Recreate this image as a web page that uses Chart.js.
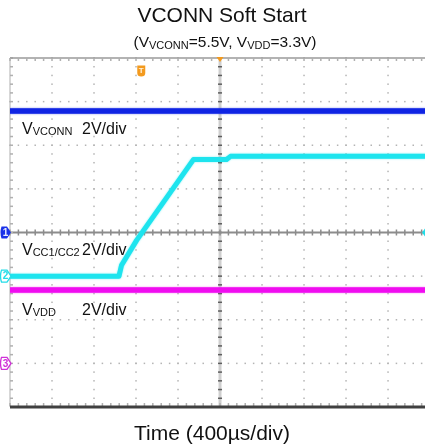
<!DOCTYPE html>
<html>
<head>
<meta charset="utf-8">
<script src="https://cdn.jsdelivr.net/npm/chart.js@4/dist/chart.umd.min.js"></script>
<style>
  html, body { margin: 0; padding: 0; background: #ffffff; }
  #wrap { width: 425px; height: 448px; position: relative; }
</style>
</head>
<body>
<div id="wrap"><canvas id="c" width="425" height="448"></canvas></div>
<script>
// ---- data (time in µs, voltage in V) ----
const US_PER_DIV = 400;
const VOLTS_PER_DIV = [2, 2, 2];          // CH1 VCONN, CH2 VCC1/CC2, CH3 VDD
const GROUND_DIV = [0, -1, -3];           // channel ground markers, in divisions
const channelNames = ['VCONN', 'CC1/CC2', 'VDD'];

const timeVconn = [-2000, 1960];
const voltVconn = [5.57, 5.57];

const timeCC = [-2000, -962, -938, -793, -252, 62, 100, 1960];
const voltCC = [0, 0, 0.5, 1.65, 5.35, 5.35, 5.49, 5.49];

const timeVdd = [-2000, 1960];
const voltVdd = [3.36, 3.36];

const xMinUs = -2000, xMaxUs = 1952;
const yMinDiv = -4, yMaxDiv = 4;

function toPoints(times, volts, ch) {
  return times.map((t, i) => ({ x: t, y: volts[i] / VOLTS_PER_DIV[ch] + GROUND_DIV[ch] }));
}

const FONT = "'Liberation Sans', Arial, Helvetica, sans-serif";

function drawRich(ctx, x, y, parts, color) {
  ctx.fillStyle = color;
  ctx.textBaseline = 'alphabetic';
  ctx.textAlign = 'left';
  let cx = x;
  for (const p of parts) {
    ctx.font = p.size + 'px ' + FONT;
    ctx.fillText(p.t, cx, y + (p.dy || 0));
    cx += ctx.measureText(p.t).width + (p.gap || 0);
  }
  return cx - x;
}
function richWidth(ctx, parts) {
  let w = 0;
  for (const p of parts) { ctx.font = p.size + 'px ' + FONT; w += ctx.measureText(p.t).width + (p.gap || 0); }
  return w;
}

const graticule = {
  id: 'graticule',
  beforeDatasetsDraw(chart) {
    const ctx = chart.ctx, ca = chart.chartArea;
    const xs = chart.scales.x, ys = chart.scales.y;
    const px = d => xs.getPixelForValue(d * US_PER_DIV);
    const py = d => ys.getPixelForValue(d);
    ctx.save();
    // dotted vertical grid lines
    ctx.fillStyle = '#b4b4b4';
    for (let i = -4; i <= 5; i++) {
      if (i === 0) continue;
      const x = px(i);
      if (x > ca.right) continue;
      for (let k = -20; k <= 20; k++) {
        ctx.fillRect(x - 0.75, py(k / 5) - 0.75, 1.5, 1.5);
      }
    }
    // dotted horizontal grid lines
    for (let j = -3; j <= 3; j++) {
      if (j === 0) continue;
      const y = py(j);
      for (let k = -25; k <= 25; k++) {
        const x = px(k / 5);
        if (x < ca.left || x > ca.right) continue;
        ctx.fillRect(x - 0.75, y - 0.75, 1.5, 1.5);
      }
    }
    // center vertical axis
    const x0 = px(0), y0 = py(0);
    ctx.fillStyle = '#cfcfcf';
    ctx.fillRect(x0 - 1.5, ca.top, 3, ca.bottom - ca.top);
    ctx.fillStyle = '#5e5e5e';
    for (let k = -20; k <= 20; k++) ctx.fillRect(x0 - 2, py(k / 5) - 0.75, 4, 1.5);
    // center horizontal axis
    ctx.fillStyle = '#8c8c8c';
    ctx.fillRect(ca.left, y0 - 1, ca.right - ca.left, 2);
    for (let k = -25; k <= 25; k++) {
      const x = px(k / 5);
      if (x < ca.left || x > ca.right) continue;
      ctx.fillRect(x - 0.75, y0 - 3, 1.5, 6);
    }
    // left border
    ctx.fillStyle = '#b0b0b0';
    ctx.fillRect(ca.left - 0.5, ca.top, 1, ca.bottom - ca.top);
    for (let k = -20; k <= 20; k++) ctx.fillRect(ca.left, py(k / 5) - 0.75, 3, 1.5);
    // top border
    ctx.fillStyle = '#9a9a9a';
    ctx.fillRect(ca.left, ca.top - 0.75, ca.right - ca.left, 1.5);
    ctx.fillStyle = '#b0b0b0';
    for (let k = -25; k <= 25; k++) {
      const x = px(k / 5);
      if (x < ca.left || x > ca.right) continue;
      ctx.fillRect(x - 0.75, ca.top, 1.5, 3);
      ctx.fillRect(x - 0.75, ca.bottom - 4, 1.5, 3);
    }
    // bottom border
    ctx.fillStyle = '#404040';
    ctx.fillRect(ca.left, ca.bottom - 1.5, ca.right - ca.left, 3);
    ctx.restore();
  },
  beforeDatasetDraw(chart, args) {
    const ctx = chart.ctx;
    ctx.save();
    ctx.shadowColor = args.meta.dataset.options.borderColor + '99';
    ctx.shadowBlur = 2;
  },
  afterDatasetDraw(chart) {
    chart.ctx.restore();
  },
  afterDatasetsDraw(chart) {
    const ctx = chart.ctx, ca = chart.chartArea;
    const xs = chart.scales.x, ys = chart.scales.y;
    const py = d => ys.getPixelForValue(d);
    const x0 = xs.getPixelForValue(0);
    ctx.save();
    // channel labels
    const ys0 = [134, 255, 315];
    for (let i = 0; i < 3; i++) {
      drawRich(ctx, 22, ys0[i], [{ t: 'V', size: 16 }, { t: channelNames[i], size: 11, dy: 1 }], '#111111');
      drawRich(ctx, 82, ys0[i], [{ t: VOLTS_PER_DIV[i] + 'V/div', size: 16 }], '#111111');
    }
    // channel ground markers
    const tagCols = ['#1a32e8', '#22dde8', '#d030d8'];
    for (let i = 0; i < 3; i++) {
      const y = py(GROUND_DIV[i]);
      ctx.beginPath();
      ctx.moveTo(1.5, y - 6);
      ctx.lineTo(7, y - 6);
      ctx.lineTo(11, y);
      ctx.lineTo(7, y + 6);
      ctx.lineTo(1.5, y + 6);
      ctx.quadraticCurveTo(-0.5, y, 1.5, y - 6);
      ctx.closePath();
      if (i === 0) { ctx.fillStyle = tagCols[i]; ctx.fill(); }
      else { ctx.fillStyle = '#ffffff'; ctx.fill(); ctx.strokeStyle = tagCols[i]; ctx.lineWidth = 1.3; ctx.stroke(); }
      ctx.fillStyle = i === 0 ? '#e8ecff' : tagCols[i];
      ctx.font = 'bold 10px ' + FONT;
      ctx.textAlign = 'center';
      ctx.textBaseline = 'middle';
      ctx.fillText(String(i + 1), 5.5, y + 0.5);
    }
    // cyan marker at right edge
    ctx.fillStyle = '#22dde8';
    ctx.beginPath();
    ctx.moveTo(ca.right, py(0) - 4); ctx.lineTo(ca.right - 3, py(0)); ctx.lineTo(ca.right, py(0) + 4); ctx.closePath(); ctx.fill();
    // trigger position marker (top)
    ctx.fillStyle = '#f39a1e';
    ctx.beginPath();
    ctx.moveTo(x0 - 3.5, ca.top - 1); ctx.lineTo(x0 + 3.5, ca.top - 1); ctx.lineTo(x0, ca.top + 4); ctx.closePath(); ctx.fill();
    // trigger level marker "T"
    const tx = xs.getPixelForValue(-750), ty = 71;
    ctx.fillStyle = '#f39a1e';
    ctx.beginPath();
    ctx.moveTo(tx - 4, ty - 5.5); ctx.lineTo(tx + 4, ty - 5.5); ctx.lineTo(tx + 4, ty + 2);
    ctx.quadraticCurveTo(tx + 4, ty + 5.5, tx, ty + 5.5); ctx.quadraticCurveTo(tx - 4, ty + 5.5, tx - 4, ty + 2);
    ctx.closePath(); ctx.fill();
    ctx.fillStyle = '#fff3e0';
    ctx.font = 'bold 8px ' + FONT; ctx.textAlign = 'center'; ctx.textBaseline = 'middle';
    ctx.fillText('T', tx, ty - 0.5);
    ctx.restore();
  },
  afterDraw(chart) {
    const ctx = chart.ctx;
    ctx.save();
    // title
    ctx.fillStyle = '#111111';
    ctx.font = '21px ' + FONT;
    ctx.textAlign = 'center';
    ctx.textBaseline = 'alphabetic';
    ctx.fillText('VCONN Soft Start', 222, 22);
    // subtitle with subscripts
    const sub = [
      { t: '(V', size: 15.5 }, { t: 'VCONN', size: 11, dy: 1.5 },
      { t: '=5.5V, V', size: 15.5 }, { t: 'VDD', size: 11, dy: 1.5 }, { t: '=3.3V)', size: 15.5 }
    ];
    const w = richWidth(ctx, sub);
    drawRich(ctx, 225 - w / 2, 47, sub, '#111111');
    // x axis title
    ctx.fillStyle = '#111111';
    ctx.font = '21px ' + FONT;
    ctx.textAlign = 'center';
    ctx.fillText('Time (400\u00b5s/div)', 212, 440);
    ctx.restore();
  }
};

new Chart(document.getElementById('c'), {
  type: 'line',
  data: {
    datasets: [
      { label: 'V' + channelNames[0], data: toPoints(timeVconn, voltVconn, 0), borderColor: '#0f24e4', borderWidth: 5.5 },
      { label: 'V' + channelNames[1], data: toPoints(timeCC, voltCC, 1), borderColor: '#1ee4ee', borderWidth: 5 },
      { label: 'V' + channelNames[2], data: toPoints(timeVdd, voltVdd, 2), borderColor: '#f00cf0', borderWidth: 5.5 }
    ]
  },
  options: {
    responsive: false,
    animation: false,
    devicePixelRatio: 1,
    parsing: false,
    layout: { padding: { left: 10, top: 58, right: 0, bottom: 41 } },
    elements: { point: { radius: 0 }, line: { tension: 0, fill: false, borderJoinStyle: 'round', borderCapStyle: 'butt' } },
    plugins: { legend: { display: false }, title: { display: false }, tooltip: { enabled: false } },
    scales: {
      x: { type: 'linear', min: xMinUs, max: xMaxUs, display: false },
      y: { type: 'linear', min: yMinDiv, max: yMaxDiv, display: false }
    }
  },
  plugins: [graticule]
});
</script>
</body>
</html>
